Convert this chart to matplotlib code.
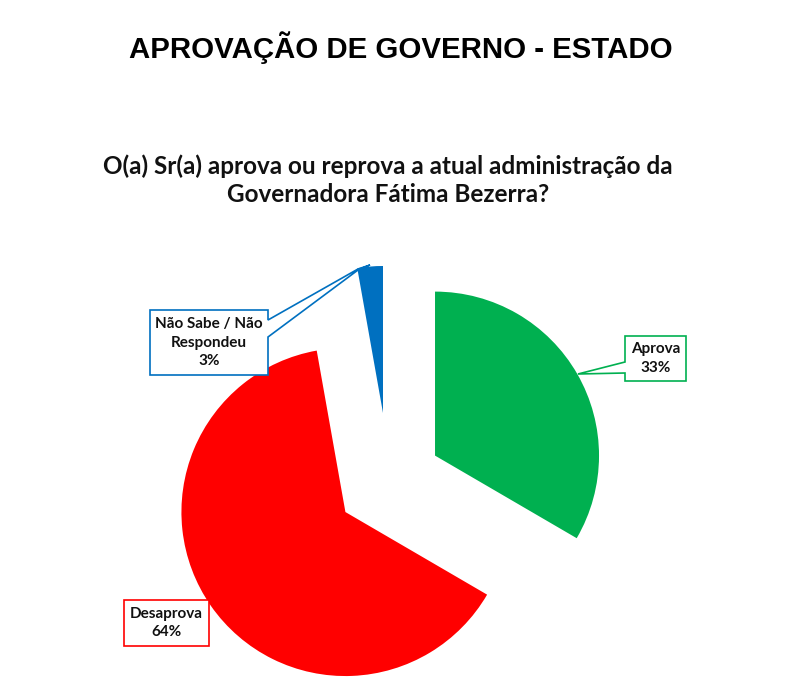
#!/usr/bin/env python3

# Pie chart with pulled out slices and callout labels, drawn in pixel-like
# coordinates so the boxes can sit where they are in the reference.

import matplotlib
matplotlib.use('Agg')
import matplotlib.pyplot as plt
from matplotlib.patches import Polygon

W, H = 792, 682

title = 'APROVAÇÃO DE GOVERNO - ESTADO'
question = 'O(a) Sr(a) aprova ou reprova a atual administração da\nGovernadora Fátima Bezerra?'

categories = ['Aprova', 'Desaprova', 'Não Sabe / Não\nRespondeu']
values = [33.4, 63.8, 2.8]
percent_labels = ['33%', '64%', '3%']
colors = ['#00B050', '#FF0000', '#0070C0']
pull_out = [57, 49, 71]


def callout(ax, box, pointer, text, color):
    # box is left, top, right, bottom; pointer is the part stuck on its outline
    left, top, right, bottom = box
    pts = [(left, top), (right, top)] + pointer.get('right', []) + [(right, bottom), (left, bottom)] + pointer.get('left', [])
    pts = [(x, H - y) for x, y in pts]
    ax.add_patch(Polygon(pts, closed=True, facecolor='white', edgecolor=color, linewidth=1.2, zorder=5))
    ax.text((left + right) / 2, H - (top + bottom) / 2, text, ha='center', va='center',
            fontsize=11, fontweight='bold', family='Lato', color='#111111', linespacing=1.4, zorder=6)


fig = plt.figure(figsize=(W / 100, H / 100), dpi=100)
ax = fig.add_axes([0, 0, 1, 1])

wedges, _ = ax.pie(values, colors=colors, explode=pull_out, startangle=90, counterclock=False,
                   radius=164, center=(385.6, H - 484))
# the small slice is shorter than the others in the reference
wedges[2].set_radius(147)
wedges[2].set_center((383, H - 413))

ax.set_xlim(0, W)
ax.set_ylim(0, H)
ax.set_aspect('equal')
ax.axis('off')

ax.text(401, H - 48, title, ha='center', va='center', fontsize=21.2, fontweight='bold',
        family='Liberation Sans', color='black')
ax.text(388, H - 180, question, ha='center', va='center', fontsize=17.5, fontweight='bold',
        family='Lato', color='#111111', linespacing=1.25)

callout(ax, (625, 336, 686, 381), {'left': [(625, 373), (578, 374), (625, 362)]},
        categories[0] + '\n' + percent_labels[0], colors[0])
callout(ax, (124, 600, 209, 646), {}, categories[1] + '\n' + percent_labels[1], colors[1])
callout(ax, (150, 310, 268, 375), {'right': [(268, 320), (358, 269), (370, 265), (358, 270), (268, 337)]},
        categories[2] + '\n' + percent_labels[2], colors[2])

fig.savefig('out.png', dpi=100)
